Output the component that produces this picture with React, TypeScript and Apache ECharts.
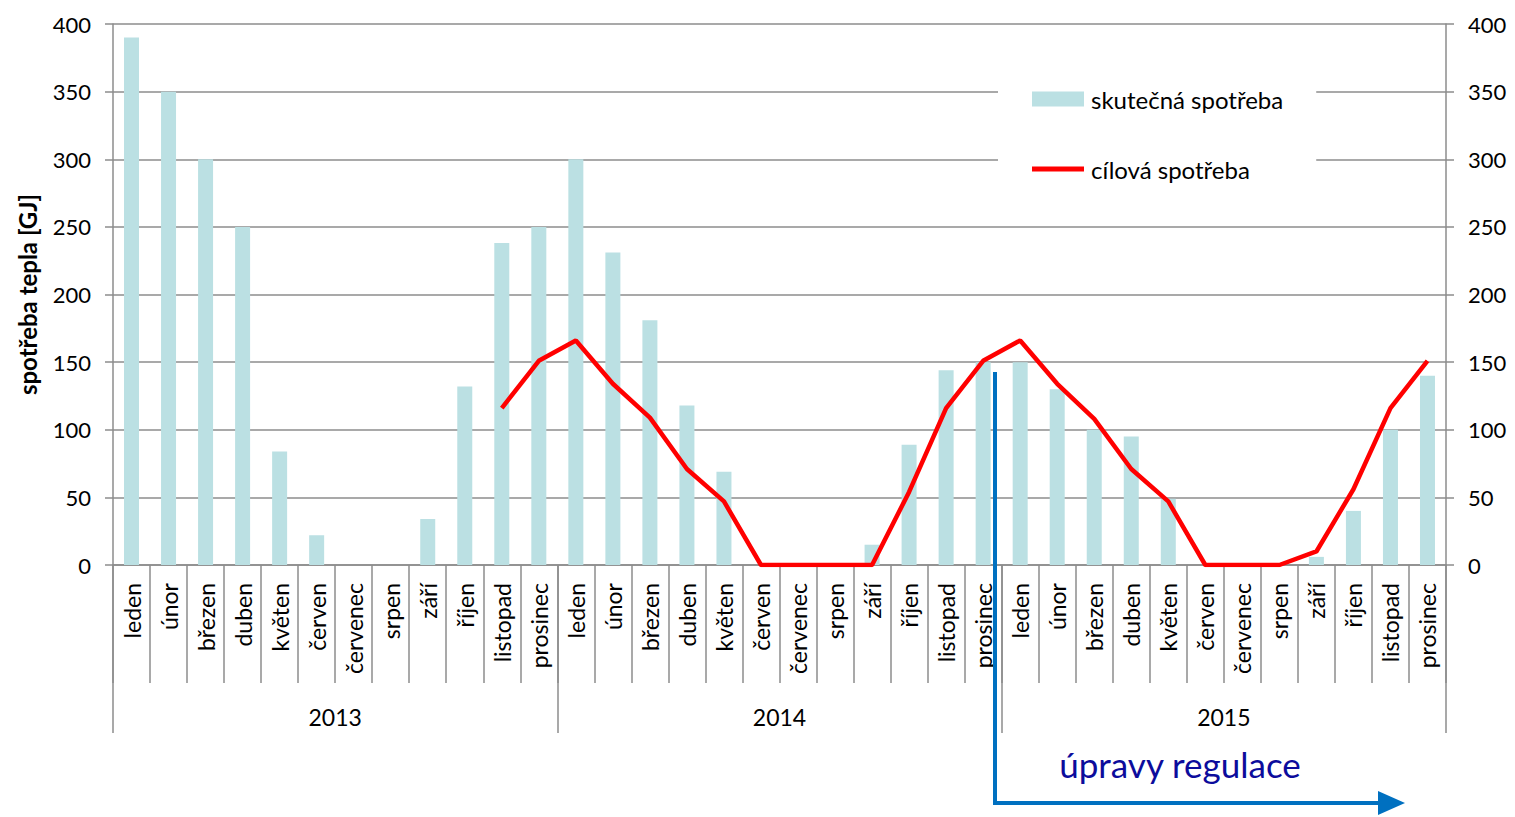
import React, { useEffect, useRef } from "react";
import * as echarts from "echarts";

const months = ["leden", "únor", "březen", "duben", "květen", "červen", "červenec", "srpen", "září", "říjen", "listopad", "prosinec"];
const years = ["2013", "2014", "2015"];

const actual2013 = [390, 350, 300, 250, 84, 22, 0, 0, 34, 132, 238, 250];
const actual2014 = [300, 231, 181, 118, 69, 0, 0, 0, 15, 89, 144, 150];
const actual2015 = [150, 130, 100, 95, 49, 0, 0, 0, 6, 40, 100, 140];

const target2013 = [null, null, null, null, null, null, null, null, null, null, 116, 151];
const target2014 = [166, 134, 109, 71, 47, 0, 0, 0, 0, 54, 116, 151];
const target2015 = [166, 134, 108, 71, 47, 0, 0, 0, 10, 56, 116, 151];

const yTicks = { min: 0, max: 400, interval: 50 };

const FONT = "Lato, 'Open Sans', sans-serif";
const GRID_COLOR = "#8c8c8c";

export default function App() {
  const ref = useRef<HTMLDivElement>(null);

  useEffect(() => {
    if (!ref.current) return;
    const chart = echarts.init(ref.current, null, { renderer: "svg" });
    const categories = years.flatMap(() => months);
    const actual = [...actual2013, ...actual2014, ...actual2015];
    const target = [...target2013, ...target2014, ...target2015];

    const yAxisBase = {
      type: "value",
      min: yTicks.min,
      max: yTicks.max,
      interval: yTicks.interval,
      axisLine: { show: true, lineStyle: { color: GRID_COLOR, width: 1.5 } },
      axisTick: { show: true, length: 8, lineStyle: { color: GRID_COLOR, width: 1.5 } },
      axisLabel: { color: "#000", fontSize: 22, fontFamily: FONT, margin: 22 },
      splitLine: { show: true, lineStyle: { color: GRID_COLOR, width: 1.5 } },
    };

    chart.setOption({
      animation: false,
      textStyle: { fontFamily: FONT },
      grid: { left: 113, right: 69, top: 24, bottom: 252, containLabel: false },
      legend: {
        orient: "vertical",
        left: 998,
        top: 72,
        padding: [15, 33, 16, 34],
        itemGap: 46,
        itemWidth: 52,
        itemHeight: 15,
        backgroundColor: "#fff",
        textStyle: { fontSize: 24, color: "#000", fontFamily: FONT, padding: [0, 0, 0, 2] },
        data: [
          { name: "skutečná spotřeba", icon: "rect" },
          { name: "cílová spotřeba", icon: "path://M0,0 L20,0 L20,2 L0,2 Z", itemStyle: { color: "#ff0000" } },
        ],
      },
      xAxis: [
        {
          type: "category",
          data: categories,
          position: "bottom",
          axisLine: { show: true, lineStyle: { color: GRID_COLOR, width: 1.5 } },
          axisTick: { show: true, interval: 0, length: 118, lineStyle: { color: GRID_COLOR, width: 1.5 } },
          axisLabel: { interval: 0, rotate: 90, margin: 18, fontSize: 23, color: "#000", fontFamily: FONT },
          splitLine: { show: false },
        },
        {
          type: "category",
          data: years,
          position: "bottom",
          axisLine: { show: false },
          axisTick: { show: true, interval: 0, length: 168, lineStyle: { color: GRID_COLOR, width: 1.5 } },
          axisLabel: { interval: 0, margin: 140, fontSize: 23, color: "#000", fontFamily: FONT },
          splitLine: { show: false },
        },
      ],
      yAxis: [
        {
          ...yAxisBase,
          position: "left",
          name: "spotřeba tepla [GJ]",
          nameLocation: "middle",
          nameGap: 74,
          nameTextStyle: { fontSize: 24, fontWeight: "bold", color: "#000", fontFamily: FONT },
        },
        {
          ...yAxisBase,
          position: "right",
          splitLine: { show: false },
        },
      ],
      series: [
        {
          name: "skutečná spotřeba",
          type: "bar",
          xAxisIndex: 0,
          yAxisIndex: 0,
          data: actual,
          barWidth: 15,
          itemStyle: { color: "#bbe0e3" },
        },
        {
          name: "cílová spotřeba",
          type: "line",
          xAxisIndex: 0,
          yAxisIndex: 0,
          data: target,
          showSymbol: false,
          symbol: "none",
          connectNulls: false,
          lineStyle: { color: "#ff0000", width: 4.5 },
          itemStyle: { color: "#ff0000" },
          z: 3,
        },
      ],
      graphic: [
        {
          type: "polyline",
          shape: { points: [[995, 372], [995, 803], [1382, 803]] },
          style: { stroke: "#0070c0", lineWidth: 4, fill: null },
          z: 10,
        },
        {
          type: "polygon",
          shape: { points: [[1378, 791], [1405, 803], [1378, 815]] },
          style: { fill: "#0070c0" },
          z: 10,
        },
        {
          type: "text",
          x: 1180,
          y: 764,
          style: {
            text: "úpravy regulace",
            fontSize: 35,
            fontFamily: FONT,
            fill: "#0c0c9c",
            align: "center",
            verticalAlign: "middle",
          },
          z: 10,
        },
      ],
    });

    return () => chart.dispose();
  }, []);

  return (
    <div
      ref={ref}
      style={{ position: "absolute", left: 0, top: 0, width: 1515, height: 817, background: "#fff" }}
    />
  );
}
